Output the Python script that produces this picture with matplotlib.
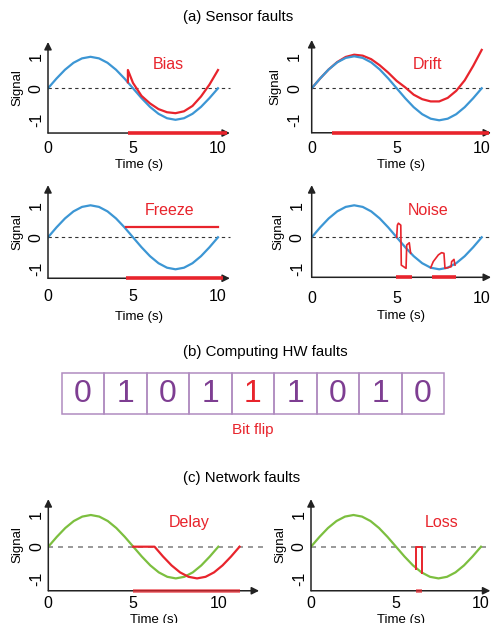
import matplotlib.pyplot as plt
from matplotlib.patches import Rectangle

plt.rcParams['font.family'] = ['Liberation Sans', 'DejaVu Sans']

# ---- data ----
time_s = [0.0, 0.5, 1.0, 1.5, 2.0, 2.5, 3.0, 3.5, 4.0, 4.5, 5.0,
          5.5, 6.0, 6.5, 7.0, 7.5, 8.0, 8.5, 9.0, 9.5, 10.0]
signal = [0.00, 0.31, 0.59, 0.81, 0.95, 1.00, 0.95, 0.81, 0.59, 0.31, 0.00,
          -0.31, -0.59, -0.81, -0.95, -1.00, -0.95, -0.81, -0.59, -0.31, 0.00]

bias_t = [4.7, 4.7, 5.0, 5.5, 6.0, 6.5, 7.0, 7.5, 8.0, 8.5, 9.0, 9.5, 10.0]
bias_v = [0.19, 0.58, 0.17, -0.24, -0.48, -0.66, -0.76, -0.79, -0.73, -0.56, -0.26, 0.12, 0.58]

drift_v = [0.00, 0.31, 0.59, 0.82, 0.98, 1.05, 1.02, 0.91, 0.72, 0.49, 0.23,
           0.03, -0.20, -0.34, -0.41, -0.41, -0.30, -0.08, 0.25, 0.70, 1.20]

freeze_t = [4.6, 10.0]
freeze_v = [0.32, 0.32]

noise1_t = [5.0, 5.04, 5.10, 5.24, 5.27, 5.55, 5.59, 5.74, 5.82]
noise1_v = [0.0, 0.38, 0.44, 0.38, -0.87, -0.97, -0.24, -0.17, -0.50]
noise2_t = [7.0, 7.15, 7.45, 7.64, 7.78, 7.84, 8.2, 8.23, 8.37, 8.43]
noise2_v = [-0.95, -0.76, -0.55, -0.48, -0.50, -0.97, -0.92, -0.76, -0.69, -0.87]

delay_t = [5.0, 6.25, 6.75, 7.25, 7.75, 8.25, 8.75, 9.25, 9.75, 10.25, 10.75, 11.25]
delay_v = [0.0, 0.0, -0.31, -0.59, -0.81, -0.95, -1.00, -0.95, -0.81, -0.59, -0.31, 0.0]

loss_t = [6.2, 6.2, 6.55, 6.55]
loss_v = [-0.69, 0.0, 0.0, -0.83]

# fault windows marked on the time axis
bias_window = [4.7, 10.5]
drift_window = [1.2, 10.4]
freeze_window = [4.6, 10.3]
noise_windows = [[4.96, 5.88], [7.05, 8.49]]
delay_window = [5.0, 11.3]
loss_window = [6.2, 6.55]

bits = [0, 1, 0, 1, 1, 1, 0, 1, 0]
flipped_bit = 4

x_ticks = [0, 5, 10]
y_ticks = [-1, 0, 1]

BLUE = '#3c96d4'
RED = '#e8242c'
GREEN = '#7cbf3f'
PURPLE = '#7e3e92'
BOX = '#b08cc0'

W, H = 491, 623
fig = plt.figure(figsize=(W / 100, H / 100), dpi=100)


def add_panel(x0, y0, xs, ys, xmax, ybot, ytop, xpad, ypad, xlabelpad,
              dash_color='#333333', dash_lw=0.8, dash_end=None):
    # x0, y0: pixel position of (t=0, signal=0); xs, ys: pixels per unit
    left = x0 / W
    bottom = 1 - (y0 - ybot * ys) / H
    ax = fig.add_axes([left, bottom, xmax * xs / W, (ytop - ybot) * ys / H])
    ax.set_xlim(0, xmax)
    ax.set_ylim(ybot, ytop)
    ax.patch.set_visible(False)
    for s in ax.spines.values():
        s.set_visible(False)
    arrow = dict(arrowstyle='-|>', color='#222222', lw=1.1,
                 mutation_scale=11, shrinkA=0, shrinkB=0)
    ax.annotate('', xy=(0, 1), xytext=(0, 0), xycoords='axes fraction', arrowprops=arrow)
    ax.annotate('', xy=(1, 0), xytext=(0, 0), xycoords='axes fraction', arrowprops=arrow)
    ax.plot([0, dash_end or xmax], [0, 0], ls=(0, (3, 3)), color=dash_color,
            lw=dash_lw, clip_on=False, zorder=1)
    ax.set_xticks(x_ticks)
    ax.set_yticks(y_ticks)
    ax.set_yticklabels([str(v) for v in y_ticks], rotation=90, va='center')
    ax.tick_params(length=0, labelsize=11.5)
    ax.tick_params(axis='x', pad=xpad)
    ax.tick_params(axis='y', pad=ypad)
    ax.set_xlabel('Time (s)', fontsize=9.5, labelpad=xlabelpad)
    ax.set_ylabel('Signal', fontsize=9.5, labelpad=4)
    return ax


def mark_window(ax, window, color=RED, alpha=1.0):
    ax.plot(window, [ax.get_ylim()[0]] * 2, color=color, lw=2.6, alpha=alpha,
            solid_capstyle='butt', clip_on=False, zorder=4)


def fault_label(ax, t, v, text):
    ax.text(t, v, text, color=RED, fontsize=11.5, ha='center', va='center')


# (a) Sensor faults
fig.text(183 / W, 1 - 17 / H, '(a) Sensor faults', fontsize=10.8, ha='left', va='center')

ax = add_panel(48, 88.3, 17, 31.5, 10.7, -1.42, 1.47, xpad=6, ypad=3, xlabelpad=2)
ax.plot(time_s, signal, color=BLUE, lw=1.6)
ax.plot(bias_t, bias_v, color=RED, lw=1.6)
mark_window(ax, bias_window)
fault_label(ax, 7.1, 0.77, 'Bias')

ax = add_panel(311.7, 88.3, 17, 32, 10.55, -1.39, 1.51, xpad=6, ypad=7, xlabelpad=2)
ax.plot(time_s, drift_v, color=RED, lw=1.6)
ax.plot(time_s, signal, color=BLUE, lw=1.6)
mark_window(ax, drift_window)
fault_label(ax, 6.84, 0.73, 'Drift')

ax = add_panel(48, 237.3, 17, 32, 10.7, -1.28, 1.63, xpad=7.5, ypad=3, xlabelpad=5)
ax.plot(time_s, signal, color=BLUE, lw=1.6)
ax.plot(freeze_t, freeze_v, color=RED, lw=1.6)
mark_window(ax, freeze_window)
fault_label(ax, 7.18, 0.85, 'Freeze')

ax = add_panel(311.7, 237.3, 17, 32, 10.55, -1.25, 1.63, xpad=10, ypad=5, xlabelpad=3)
ax.plot(time_s, signal, color=BLUE, lw=1.6)
ax.plot(noise1_t, noise1_v, color=RED, lw=1.2)
ax.plot(noise2_t, noise2_v, color=RED, lw=1.2)
for w in noise_windows:
    mark_window(ax, w)
fault_label(ax, 6.84, 0.85, 'Noise')

# (b) Computing HW faults
fig.text(183 / W, 1 - 352 / H, '(b) Computing HW faults', fontsize=10.8, ha='left', va='center')
ax = fig.add_axes([61.7 / W, 1 - 414 / H, 382.5 / W, 41 / H])
ax.set_xlim(0, len(bits))
ax.set_ylim(0, 1)
ax.axis('off')
for i, b in enumerate(bits):
    ax.add_patch(Rectangle((i, 0), 1, 1, fill=False, ec=BOX, lw=1.1, clip_on=False))
    ax.text(i + 0.5, 0.5, str(b), fontsize=23, ha='center', va='center',
            color=RED if i == flipped_bit else PURPLE)
ax.text(flipped_bit + 0.5, -0.39, 'Bit flip', color=RED, fontsize=11, ha='center', va='center')

# (c) Network faults
fig.text(183 / W, 1 - 478 / H, '(c) Network faults', fontsize=10.8, ha='left', va='center')

ax = add_panel(48.3, 546.7, 17, 31.7, 12.4, -1.39, 1.5, xpad=3.6, ypad=3, xlabelpad=2,
               dash_color='#888888', dash_lw=1.2, dash_end=12.8)
ax.plot(time_s, signal, color=GREEN, lw=1.6)
ax.plot(delay_t, delay_v, color=RED, lw=1.6)
mark_window(ax, delay_window, alpha=0.7)
fault_label(ax, 8.28, 0.75, 'Delay')

ax = add_panel(311, 546.7, 17, 31.7, 10.55, -1.39, 1.5, xpad=3.6, ypad=3, xlabelpad=2,
               dash_color='#888888', dash_lw=1.2)
ax.plot(time_s, signal, color=GREEN, lw=1.6)
ax.plot(loss_t, loss_v, color=RED, lw=1.4)
mark_window(ax, loss_window, alpha=0.7)
fault_label(ax, 7.7, 0.75, 'Loss')

fig.savefig('out.png', dpi=100)
